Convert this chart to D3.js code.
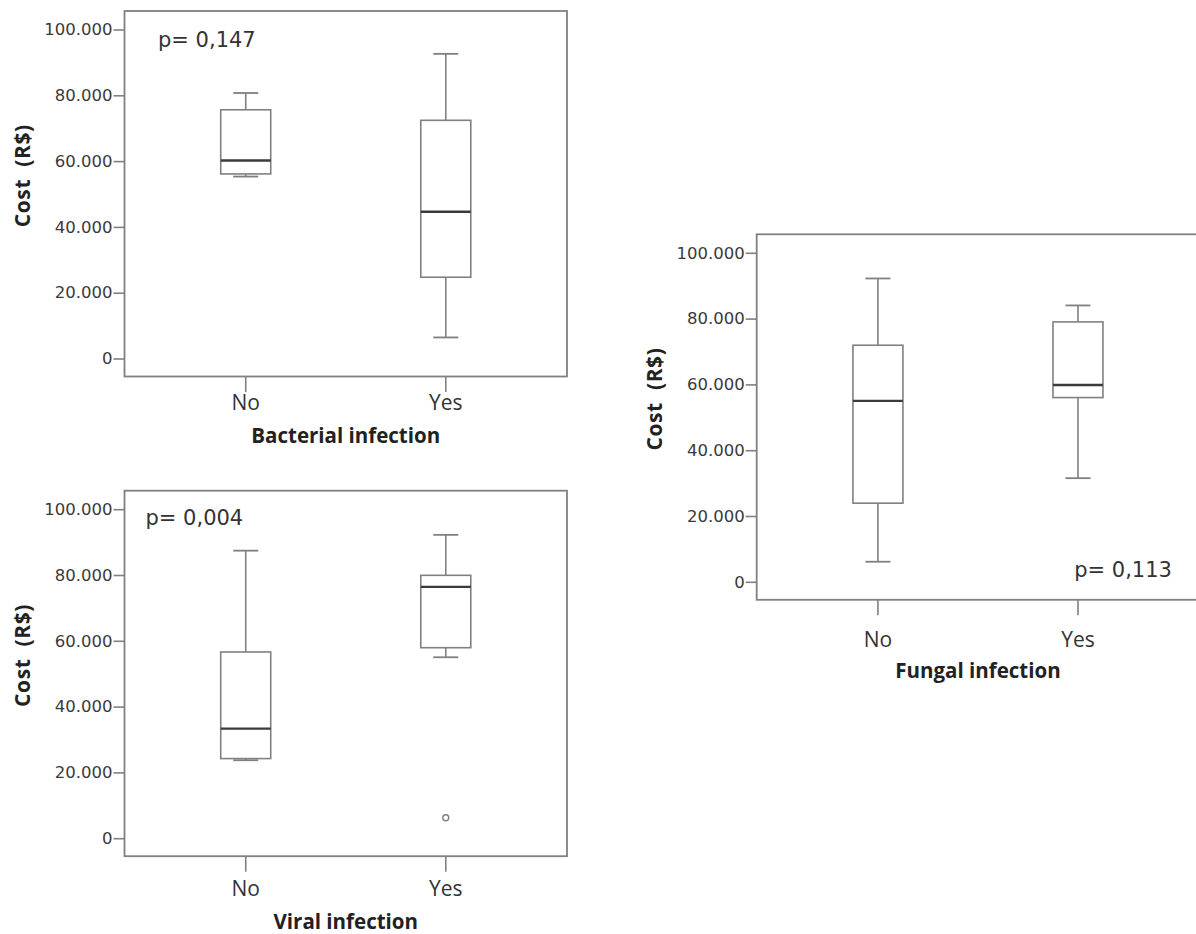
<!DOCTYPE html>
<html>
<head>
<meta charset="utf-8">
<script src="https://cdn.jsdelivr.net/npm/d3@7"></script>
<style>
  body { margin: 0; background: #fff; }
  svg { display: block; }
</style>
</head>
<body>
<div id="chart"></div>
<script>
// categories and y ticks shared by all three panels
var categories = ["No", "Yes"];
var costTicks = [0, 20000, 40000, 60000, 80000, 100000];

// five-number summaries [min, q1, median, q3, max], one per category
var bacterialBoxes = [[55300, 56100, 60200, 75600, 80700], [6400, 24700, 44600, 72400, 92600]];
var viralBoxes = [[23700, 24200, 33300, 56600, 87400], [55000, 57900, 76400, 79900, 92200]];
var fungalBoxes = [[6100, 23900, 55000, 71900, 92200], [31500, 56000, 59800, 79000, 84000]];

// outliers per category
var bacterialOutliers = [[], []];
var viralOutliers = [[], [6200]];
var fungalOutliers = [[], []];

var panelTitles = ["Bacterial infection", "Viral infection", "Fungal infection"];
var pValues = ["p= 0,147", "p= 0,004", "p= 0,113"];

var svgWidth = 1196;
var svgHeight = 934;

var frameW = 442.5;
var frameH = 365.5;

// where each panel sits on the page
var panels = [
  { left: 124.5, top: 11, boxes: bacterialBoxes, outliers: bacterialOutliers,
    title: panelTitles[0], p: pValues[0], px: 33.5, py: 36, labelGap: 33.5, titleGap: 66 },
  { left: 124.5, top: 490.7, boxes: viralBoxes, outliers: viralOutliers,
    title: panelTitles[1], p: pValues[1], px: 21, py: 34.5, labelGap: 40, titleGap: 73 },
  { left: 756.7, top: 234.3, boxes: fungalBoxes, outliers: fungalOutliers,
    title: panelTitles[2], p: pValues[2], px: 317.5, py: 342.5, labelGap: 47, titleGap: 78.5 }
];

// brazilian number format: 100.000
var br = d3.formatLocale({ decimal: ",", thousands: ".", grouping: [3], currency: ["R$", ""] });
var fmt = br.format(",d");

var svg = d3.select("#chart")
  .append("svg")
  .attr("width", svgWidth)
  .attr("height", svgHeight);

var lineColor = "#808080";

panels.forEach(function(p) {
  var g = svg.append("g")
    .attr("transform", `translate(${p.left}, ${p.top})`);

  var y = d3.scaleLinear()
    .domain([0, 100000])
    .range([347.5, 18.5]);

  var x = d3.scalePoint()
    .domain(categories)
    .range([0, frameW])
    .padding(0.606);

  // y axis
  var leftAxis = d3.axisLeft(y)
    .tickValues(costTicks)
    .tickFormat(fmt)
    .tickSize(11)
    .tickPadding(1);

  var yAxis = g.append("g").call(leftAxis);
  yAxis.select(".domain").remove();
  yAxis.selectAll("line").attr("stroke", lineColor).attr("stroke-width", 1.6);
  yAxis.selectAll("text")
    .attr("font-family", "DejaVu Sans")
    .attr("font-size", "16.5px")
    .attr("fill", "#3a3a3a");

  // x ticks and labels
  var xt = g.append("g")
    .attr("transform", `translate(0, ${frameH})`);
  xt.selectAll("line")
    .data(categories)
    .enter()
    .append("line")
    .attr("x1", d => x(d))
    .attr("x2", d => x(d))
    .attr("y1", 0)
    .attr("y2", 15.5)
    .attr("stroke", lineColor)
    .attr("stroke-width", 1.6);
  xt.selectAll("text")
    .data(categories)
    .enter()
    .append("text")
    .attr("x", d => x(d))
    .attr("y", p.labelGap)
    .attr("text-anchor", "middle")
    .attr("font-family", "Open Sans")
    .attr("font-size", "21px")
    .attr("fill", "#333")
    .text(d => d);

  // axis title
  g.append("text")
    .attr("x", frameW / 2)
    .attr("y", frameH + p.titleGap)
    .attr("text-anchor", "middle")
    .attr("font-family", "Open Sans")
    .attr("font-weight", "bold")
    .attr("font-size", "20.5px")
    .attr("fill", "#222")
    .text(p.title);

  g.append("text")
    .attr("transform", `translate(-95, ${frameH / 2 - 18}) rotate(-90)`)
    .attr("text-anchor", "middle")
    .attr("font-family", "Open Sans")
    .attr("font-weight", "bold")
    .attr("font-size", "21px")
    .attr("letter-spacing", "0.6px")
    .attr("fill", "#222")
    .style("white-space", "pre")
    .text("Cost  (R$)");

  // boxes
  var boxW = 50;
  var capW = 25;
  var data = p.boxes.map((b, i) => ({ cat: categories[i], s: b }));

  var bx = g.selectAll(".box")
    .data(data)
    .enter()
    .append("g")
    .attr("class", "box");

  // whiskers
  bx.append("line")
    .attr("x1", d => x(d.cat)).attr("x2", d => x(d.cat))
    .attr("y1", d => y(d.s[4])).attr("y2", d => y(d.s[3]))
    .attr("stroke", lineColor).attr("stroke-width", 1.6);
  bx.append("line")
    .attr("x1", d => x(d.cat)).attr("x2", d => x(d.cat))
    .attr("y1", d => y(d.s[1])).attr("y2", d => y(d.s[0]))
    .attr("stroke", lineColor).attr("stroke-width", 1.6);
  bx.append("line")
    .attr("x1", d => x(d.cat) - capW / 2).attr("x2", d => x(d.cat) + capW / 2)
    .attr("y1", d => y(d.s[4])).attr("y2", d => y(d.s[4]))
    .attr("stroke", lineColor).attr("stroke-width", 1.8);
  bx.append("line")
    .attr("x1", d => x(d.cat) - capW / 2).attr("x2", d => x(d.cat) + capW / 2)
    .attr("y1", d => y(d.s[0])).attr("y2", d => y(d.s[0]))
    .attr("stroke", lineColor).attr("stroke-width", 1.8);

  bx.append("rect")
    .attr("x", d => x(d.cat) - boxW / 2)
    .attr("y", d => y(d.s[3]))
    .attr("width", boxW)
    .attr("height", d => y(d.s[1]) - y(d.s[3]))
    .attr("fill", "#fff")
    .attr("stroke", lineColor)
    .attr("stroke-width", 1.6);

  bx.append("line")
    .attr("x1", d => x(d.cat) - boxW / 2).attr("x2", d => x(d.cat) + boxW / 2)
    .attr("y1", d => y(d.s[2])).attr("y2", d => y(d.s[2]))
    .attr("stroke", "#3a3a3a").attr("stroke-width", 2.4);

  // outliers
  p.outliers.forEach(function(list, i) {
    g.selectAll(null)
      .data(list)
      .enter()
      .append("circle")
      .attr("cx", x(categories[i]))
      .attr("cy", d => y(d))
      .attr("r", 3)
      .attr("fill", "none")
      .attr("stroke", lineColor)
      .attr("stroke-width", 1.4);
  });

  // frame
  g.append("rect")
    .attr("x", 0)
    .attr("y", 0)
    .attr("width", frameW)
    .attr("height", frameH)
    .attr("fill", "none")
    .attr("stroke", lineColor)
    .attr("stroke-width", 1.8);

  // p value
  g.append("text")
    .attr("x", p.px)
    .attr("y", p.py)
    .attr("font-family", "DejaVu Sans")
    .attr("font-size", "21px")
    .attr("fill", "#333")
    .text(p.p);
});
</script>
</body>
</html>
